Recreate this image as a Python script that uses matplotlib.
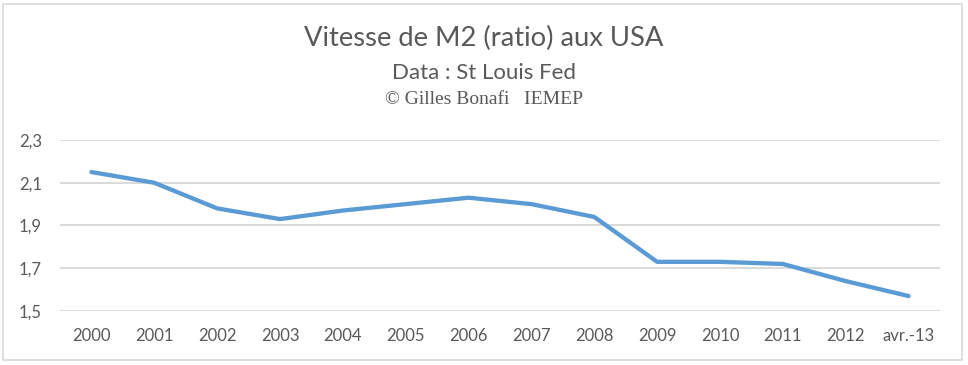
import matplotlib
matplotlib.use("Agg")
import matplotlib.pyplot as plt
from matplotlib.patches import Rectangle

categories = ["2000", "2001", "2002", "2003", "2004", "2005", "2006",
              "2007", "2008", "2009", "2010", "2011", "2012", "avr.-13"]
velocity = [2.15, 2.10, 1.98, 1.93, 1.97, 2.00, 2.03,
            2.00, 1.94, 1.73, 1.73, 1.72, 1.64, 1.57]
y_ticks = [1.5, 1.7, 1.9, 2.1, 2.3]
y_tick_labels = ["1,5", "1,7", "1,9", "2,1", "2,3"]

W, H = 968, 365
fig = plt.figure(figsize=(W / 100, H / 100), dpi=100)
fig.patch.set_facecolor("white")

# outer chart border
fig.patches.append(Rectangle((3 / W, 1 - 360 / H), (962 - 3) / W, (360 - 4) / H,
                             transform=fig.transFigure, fill=False,
                             edgecolor="#D9D9D9", linewidth=1.2))

ax = fig.add_axes([60 / W, 1 - 311 / H, (940 - 60) / W, (311 - 140) / H])
x = list(range(len(categories)))
ax.plot(x, velocity, color="#5B9BD5", linewidth=3.1,
        solid_capstyle="round", solid_joinstyle="round", zorder=3)

ax.set_xlim(-0.5, len(categories) - 0.5)
ax.set_ylim(1.5, 2.3)
ax.set_yticks(y_ticks)
ax.set_yticklabels(y_tick_labels)
ax.set_xticks(x)
ax.set_xticklabels(categories)
for s in ax.spines.values():
    s.set_visible(False)
ax.grid(axis="y", color="#D9D9D9", linewidth=1.4, zorder=0)
ax.set_axisbelow(True)
ax.tick_params(axis="both", length=0, colors="#595959", labelsize=12)
ax.tick_params(axis="y", pad=13)
ax.tick_params(axis="x", pad=12)
for lab in ax.get_xticklabels() + ax.get_yticklabels():
    lab.set_fontfamily("Lato")

fig.text(0.5, 1 - 38 / H, "Vitesse de M2 (ratio) aux USA", ha="center", va="center",
         fontsize=19.7, color="#595959", fontfamily="Lato")
fig.text(0.5, 1 - 73 / H, "Data : St Louis Fed", ha="center", va="center",
         fontsize=16, color="#595959", fontfamily="Lato")
fig.text(0.5, 1 - 100 / H, "\u00a9 Gilles Bonafi   IEMEP", ha="center", va="center",
         fontsize=14, color="#595959", fontfamily="Liberation Serif")

fig.savefig("out.png", dpi=100, facecolor="white")
